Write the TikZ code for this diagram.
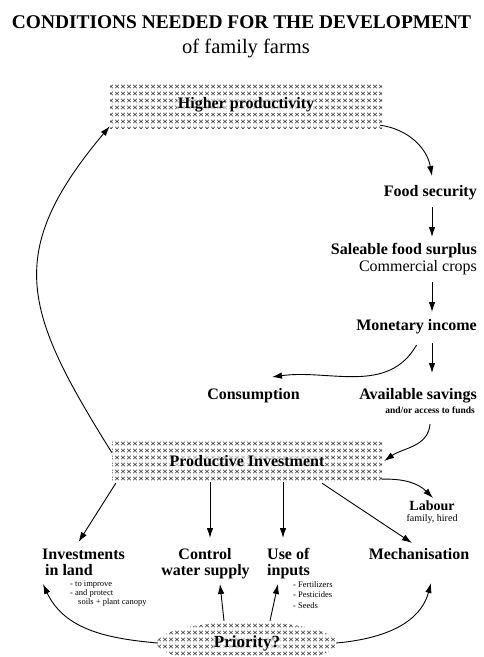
\documentclass[tikz,border=0pt]{standalone}
\usepackage{fontspec}
\setmainfont{Liberation Serif}
\usetikzlibrary{arrows.meta,calc,patterns,shapes.geometric}

% small x-marks used as a halftone texture
\pgfdeclarepatternformonly{xmarks}{\pgfqpoint{-1pt}{-1pt}}{\pgfqpoint{7pt}{8pt}}{\pgfqpoint{6pt}{7pt}}{%
  \pgfsetlinewidth{0.7pt}%
  \pgfpathmoveto{\pgfqpoint{1.2pt}{1.8pt}}\pgfpathlineto{\pgfqpoint{4.8pt}{5.2pt}}%
  \pgfpathmoveto{\pgfqpoint{1.2pt}{5.2pt}}\pgfpathlineto{\pgfqpoint{4.8pt}{1.8pt}}%
  \pgfusepath{stroke}}

\begin{document}
\begin{tikzpicture}[x=1pt,y=1pt,
  lbl/.style={font=\bfseries\fontsize{16}{18}\selectfont, inner sep=1pt},
  plain/.style={font=\fontsize{16}{18}\selectfont, inner sep=1pt},
  note/.style={font=\fontsize{8.5}{9}\selectfont, inner sep=0pt, align=left},
  shaded/.style={pattern=xmarks, pattern color=black!68, inner sep=0pt},
  onshade/.style={font=\bfseries\fontsize{16}{18}\selectfont, inner sep=1pt,
                  fill=white, fill opacity=0.55, text opacity=1},
  arr/.style={-{Latex[length=10pt,width=6.5pt]}, line width=0.9pt},
]
\useasboundingbox (0,-657) rectangle (483,0);

% title
\node[font=\bfseries\fontsize{19.4}{22}\selectfont, anchor=base, inner sep=0pt]
  (title) at (241.5,-28) {CONDITIONS NEEDED FOR THE DEVELOPMENT};
\node[font=\fontsize{20.5}{24}\selectfont, anchor=base, inner sep=0pt]
  (subtitle) at (246,-53) {of family farms};

% shaded boxes, each with its caption laid over the texture
\node[shaded, minimum width=272pt, minimum height=46pt] (hp) at (246,-105) {};
\node[onshade] (hpt) at (hp.center) {Higher productivity};
\node[shaded, minimum width=270pt, minimum height=42pt] (pi) at (247,-461) {};
\node[onshade] (pit) at (pi.center) {Productive Investment};
\node[shaded, ellipse, minimum width=180pt, minimum height=42pt] (pr) at (247,-643) {};
\node[onshade, font=\bfseries\fontsize{17}{19}\selectfont] (prt) at (pr.center) {Priority?};

% right-hand column
\coordinate (colx) at (432,0);
\node[lbl, anchor=base east] (fs) at (478,-196) {Food security};
\node[lbl, anchor=base east] (sfs) at (478,-254) {Saleable food surplus};
\node[plain, anchor=base east] (cc) at (478,-271) {Commercial crops};
\node[lbl, anchor=base east] (mi) at (478,-330) {Monetary income};
\node[lbl, anchor=base east] (as) at (478,-399) {Available savings};
\node[font=\bfseries\fontsize{9.5}{11}\selectfont, inner sep=1pt, anchor=base east]
  (af) at (476,-413) {and/or access to funds};
\node[lbl, anchor=base] (cons) at (253.5,-399) {Consumption};

\node[font=\bfseries\fontsize{14}{16}\selectfont, inner sep=1pt, anchor=base] (lab) at (432,-510) {Labour};
\node[font=\fontsize{10}{12}\selectfont, inner sep=1pt, anchor=base] (fh) at (432,-521) {family, hired};

% bottom row
\node[lbl, anchor=base west] (inv1) at (41,-559) {Investments};
\node[lbl, anchor=base west] (inv2) at (44,-575) {in land};
\node[note, anchor=north west] (invn) at (70,-581)
  {- to improve\\- and protect\\\hspace*{8pt}soils + plant canopy};
\node[lbl, anchor=base] (cws1) at (205,-559) {Control};
\node[lbl, anchor=base] (cws2) at (205.5,-575) {water supply};
\node[lbl, anchor=base west] (uoi1) at (266,-559) {Use of};
\node[lbl, anchor=base west] (uoi2) at (266,-575) {inputs};
\node[note, anchor=north west, font=\fontsize{8.5}{10.5}\selectfont] (uoin) at (293,-581)
  {- Fertilizers\\- Pesticides\\- Seeds};
\node[lbl, anchor=base] (mech) at (419,-559) {Mechanisation};

% the cycle down the right side
\draw[arr] ($(hp.south east)+(-2,3)$) to[out=-8, in=100] ($(fs.base -| colx)+(0,20)$);
\draw[arr] ($(fs.base -| colx)+(0,-11)$) -- ($(sfs.base -| colx)+(0,17)$);
\draw[arr] ($(cc.base -| colx)+(0,-11)$) -- ($(mi.base -| colx)+(0,18)$);
\draw[arr] ($(mi.base -| colx)+(0,-13)$) -- ($(as.base -| colx)+(0,26)$);
\draw[arr] ($(mi.base)+(0,-15)$) to[out=-120, in=8] ($(cons.base)+(18.5,22)$);
\draw[arr] ($(af.base)+(0,-11)$) to[out=-95, in=35] ($(pi.east)+(2,0)$);
\draw[arr] ($(pi.south east)+(0,3)$) to[out=2, in=135] ($(lab.base)+(1,12)$);

% back to higher productivity
\draw[arr] ($(pi.north west)!0.3!(pi.south west)$) to[out=122, in=-130, looseness=1.3] ($(hp.south west)+(0,2)$);

% investment branches
\draw[arr] ($(pi.south west)+(4,-1)$) -- ($(inv1.base)+(-5,17)$);
\draw[arr] ($(pi.south)+(-37,0)$) -- ($(cws1.base -| pi.south)+(-37,21)$);
\draw[arr] ($(pi.south)+(36,0)$) -- ($(uoi1.base -| pi.south)+(36,21)$);
\draw[arr] ($(pi.south)+(75,-1)$) -- ($(mech.base)+(-7,16)$);

% priority links
\draw[arr] ($(pr.west)+(1,0)$) to[out=175, in=-65] ($(inv2.base west)+(-1,-9)$);
\draw[arr] ($(pr.north)+(-23,1)$) -- ($(cws2.base)+(14.5,-9)$);
\draw[arr] ($(pr.north)+(23,1)$) -- ($(uoi2.base west)+(12,-9)$);
\draw[arr] ($(pr.east)+(-1,0)$) to[out=5, in=-105] ($(mech.base)+(12,-24)$);
\end{tikzpicture}
\end{document}
